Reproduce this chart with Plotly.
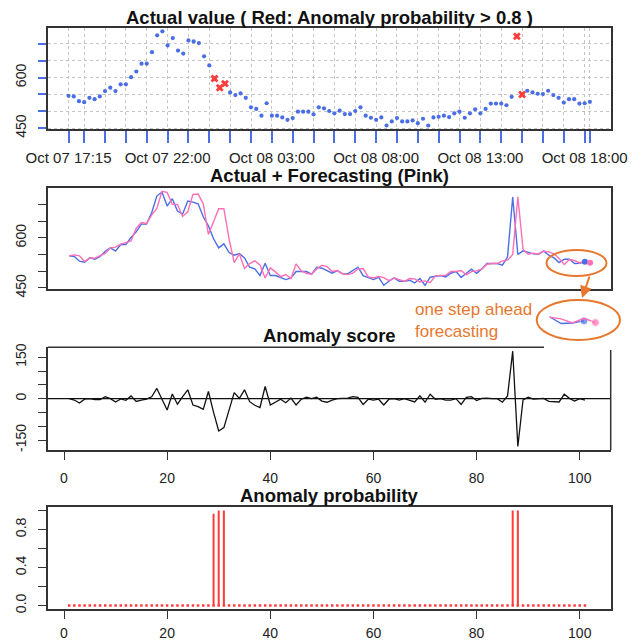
import pandas as pd
import plotly.graph_objects as go

# ---------------- data ----------------
actual = [546, 544, 530, 527, 540, 536, 544, 560, 570, 560,
          580, 580, 601, 618, 641, 641, 675, 725, 737, 695,
          717, 680, 671, 710, 707, 702, 663, 636, 597, 570,
          582, 556, 548, 553, 540, 512, 507, 487, 524, 487,
          487, 482, 475, 480, 499, 499, 499, 491, 512, 509,
          501, 494, 502, 492, 492, 501, 512, 487, 481, 475,
          482, 458, 470, 480, 470, 470, 473, 465, 478, 458,
          482, 484, 487, 483, 494, 499, 481, 494, 506, 494,
          507, 523, 523, 523, 518, 543, 722, 550, 561, 556,
          552, 551, 561, 548, 540, 526, 536, 536, 523, 524,
          528]

forecast = [546, 549, 546, 529, 540, 539, 547, 553, 570, 572,
            581, 586, 591, 628, 646, 643, 668, 688, 739, 736,
            700, 700, 664, 678, 730, 731, 702, 610, 647, 687,
            687, 597, 526, 552, 508, 523, 531, 519, 480, 510,
            498, 484, 490, 478, 522, 501, 494, 491, 507, 518,
            514, 499, 502, 492, 490, 494, 507, 508, 483, 480,
            484, 481, 472, 480, 475, 470, 478, 477, 468, 471,
            466, 486, 487, 488, 499, 499, 502, 489, 499, 501,
            506, 521, 523, 523, 531, 533, 550, 723, 566, 551,
            554, 551, 560, 558, 552, 538, 520, 535, 532, 524,
            533, 525]

score = [0, -5, -16, -2, 0, -3, -3, 7, 0, -12,
         -1, -6, 10, -10, -5, -2, 7, 37, -2, -41,
         17, -20, 7, 32, -23, -29, -39, 26, -50, -117,
         -105, -41, 22, 1, 32, -11, -24, -32, 44, -23,
         -11, -2, -15, 2, -23, -2, 5, 0, 5, -9,
         -13, -5, 0, 0, 2, 7, 5, -21, -2, -5,
         -2, -23, -2, 0, -5, 0, -5, -12, 10, -13,
         16, -2, 0, -5, -5, 0, -21, 5, 7, -7,
         1, 2, 0, 0, -13, 10, 172, -173, -5, 5,
         -2, 0, 1, -10, -12, -12, 16, 1, -9, 0,
         -5]

prob = [0, 0, 0, 0, 0, 0, 0, 0, 0, 0,
        0, 0, 0, 0, 0, 0, 0, 0, 0, 0,
        0, 0, 0, 0, 0, 0, 0, 0, 0.965, 1.0,
        1.0, 0, 0, 0, 0, 0, 0, 0, 0, 0,
        0, 0, 0, 0, 0, 0, 0, 0, 0, 0,
        0, 0, 0, 0, 0, 0, 0, 0, 0, 0,
        0, 0, 0, 0, 0, 0, 0, 0, 0, 0,
        0, 0, 0, 0, 0, 0, 0, 0, 0, 0,
        0, 0, 0, 0, 0, 0, 1.0, 1.0, 0, 0,
        0, 0, 0, 0, 0, 0, 0, 0, 0, 0,
        0]

threshold = 0.8
start_time = "2015-10-07 17:15"
time_labels = ["Oct 07 17:15", "Oct 07 22:00", "Oct 08 03:00",
               "Oct 08 08:00", "Oct 08 13:00", "Oct 08 18:00"]
score_ticks = [-150, -100, -50, 0, 50, 100, 150]
score_labels = ["-150", "", "", "0", "", "", "150"]
val_ticks = [450, 500, 550, 600, 650, 700]
val_labels = ["450", "", "", "600", "", ""]
prob_ticks = [0, 0.2, 0.4, 0.6, 0.8, 1.0]
prob_labels = ["0.0", "", "0.4", "", "0.8", ""]
idx_ticks = [0, 20, 40, 60, 80, 100]

# ---------------- derived ----------------
idx = list(range(1, len(actual) + 1))
idx_f = list(range(1, len(forecast) + 1))
times = pd.date_range(start_time, periods=len(actual), freq="15min")
hours = pd.date_range(times[0].ceil("h"), times[-1].floor("h"), freq="h")
tick_times = [times[0]] + list(hours) + [times[-1]]
tick_text = [t.strftime("%b %d %H:%M") if t.strftime("%b %d %H:%M") in time_labels else ""
             for t in tick_times]
span = times[-1] - times[0]
t_range = [times[0] - span * 0.04, times[-1] + span * 0.04]

red_i = [i for i, p in zip(range(len(prob)), prob) if p > threshold]

W, H = 641, 643
def px(x): return x / W
def py(y): return 1 - y / H

X0, X1 = 47.7, 610.7
BLUE = "#4a6ee6"
PINK = "#ff6fb5"
ORANGE = "#e8772e"
RED = "#ff3b3b"
FONT = "Arial, Liberation Sans, sans-serif"
TXT = "#222222"
BOX = "#333333"

fig = go.Figure()

# panel 1
fig.add_trace(go.Scatter(x=times, y=actual, mode="markers", xaxis="x", yaxis="y",
                         marker=dict(color=BLUE, size=4.2), showlegend=False))
fig.add_trace(go.Scatter(x=[times[i] for i in red_i], y=[actual[i] for i in red_i],
                         mode="markers", xaxis="x", yaxis="y",
                         marker=dict(color=RED, size=7, symbol="x"), showlegend=False))

# panel 2
fig.add_trace(go.Scatter(x=idx, y=actual, mode="lines", xaxis="x2", yaxis="y2",
                         line=dict(color=BLUE, width=1.4), showlegend=False))
fig.add_trace(go.Scatter(x=idx_f, y=forecast, mode="lines", xaxis="x2", yaxis="y2",
                         line=dict(color=PINK, width=1.4), showlegend=False))
fig.add_trace(go.Scatter(x=[idx[-1]], y=[actual[-1]], mode="markers", xaxis="x2", yaxis="y2",
                         marker=dict(color=BLUE, size=6), showlegend=False))
fig.add_trace(go.Scatter(x=[idx_f[-1]], y=[forecast[-1]], mode="markers", xaxis="x2", yaxis="y2",
                         marker=dict(color=PINK, size=6), showlegend=False))

# panel 3
fig.add_trace(go.Scatter(x=idx, y=score, mode="lines", xaxis="x3", yaxis="y3",
                         line=dict(color="#111111", width=1.3), showlegend=False))

# panel 4 (type "h")
hx, hy = [], []
for i, p in zip(idx, prob):
    hx += [i, i, None]
    hy += [0, p, None]
fig.add_trace(go.Scatter(x=hx, y=hy, mode="lines", xaxis="x4", yaxis="y4",
                         line=dict(color=RED, width=2), showlegend=False))
fig.add_trace(go.Scatter(x=idx, y=[0] * len(idx), mode="markers", xaxis="x4", yaxis="y4",
                         marker=dict(color=RED, size=2.5, symbol="square"), showlegend=False))

# inset (zoomed tail)
fig.add_trace(go.Scatter(x=idx[-4:], y=actual[-4:], mode="lines+markers", xaxis="x5", yaxis="y5",
                         line=dict(color=BLUE, width=1.4),
                         marker=dict(color=BLUE, size=[0, 0, 0, 8]), showlegend=False))
fig.add_trace(go.Scatter(x=idx_f[-5:], y=forecast[-5:], mode="lines+markers", xaxis="x5", yaxis="y5",
                         line=dict(color=PINK, width=1.4),
                         marker=dict(color=PINK, size=[0, 0, 0, 0, 8]), showlegend=False))

tickfont = dict(family=FONT, size=14, color=TXT)
idx_range = [-3.16, 106.0]
val_range = [446.8, 748.2]

layout = dict(
    width=W, height=H, autosize=False,
    margin=dict(l=0, r=0, t=0, b=0, autoexpand=False),
    paper_bgcolor="white", plot_bgcolor="white", showlegend=False,
    xaxis=dict(domain=[px(X0), px(X1)], anchor="y", type="date", range=t_range,
               tickmode="array", tickvals=tick_times, ticktext=tick_text, tickangle=0,
               ticks="outside", ticklen=12, tickwidth=2, tickcolor=BLUE,
               tickfont=dict(family=FONT, size=15, color=TXT), ticklabelstandoff=2,
               showgrid=True, gridcolor="#c4c4c4", griddash="dot", gridwidth=1,
               showline=True, mirror=True, linecolor=BOX, linewidth=1.5, zeroline=False),
    yaxis=dict(domain=[py(129.3), py(27.5)], anchor="x", range=val_range,
               tickmode="array", tickvals=val_ticks, ticktext=val_labels, tickangle=-90,
               ticks="outside", ticklen=8, tickwidth=2, tickcolor=BLUE, tickfont=tickfont,
               ticklabelstandoff=6,
               showgrid=True, gridcolor="#c4c4c4", griddash="dot", gridwidth=1,
               showline=True, mirror=True, linecolor=BOX, linewidth=1.5, zeroline=False),
    xaxis2=dict(domain=[px(X0), px(X1)], anchor="y2", range=idx_range,
                showticklabels=False, ticks="", showgrid=False, zeroline=False,
                showline=True, mirror=True, linecolor=BOX, linewidth=1.5),
    yaxis2=dict(domain=[py(289), py(188.3)], anchor="x2", range=val_range,
                tickmode="array", tickvals=val_ticks, ticktext=val_labels, tickangle=-90,
                ticks="outside", ticklen=8, tickwidth=1.3, tickcolor=BOX, tickfont=tickfont,
                ticklabelstandoff=6, showgrid=False, zeroline=False,
                showline=True, mirror=True, linecolor=BOX, linewidth=1.5),
    xaxis3=dict(domain=[px(X0), px(X1)], anchor="y3", range=idx_range,
                tickmode="array", tickvals=idx_ticks, tickangle=0, ticks="outside", ticklen=8,
                tickwidth=1.3, tickcolor=BOX, tickfont=tickfont, ticklabelstandoff=6,
                showgrid=False, zeroline=False, showline=True, mirror=False,
                linecolor=BOX, linewidth=1.5),
    yaxis3=dict(domain=[py(450), py(347.3)], anchor="x3", range=[-186, 186],
                tickmode="array", tickvals=score_ticks, ticktext=score_labels, tickangle=-90,
                ticks="outside", ticklen=8, tickwidth=1.3, tickcolor=BOX, tickfont=tickfont,
                ticklabelstandoff=6, showgrid=False, zeroline=False,
                showline=True, mirror=False, linecolor=BOX, linewidth=1.5),
    xaxis4=dict(domain=[px(X0), px(X1)], anchor="y4", range=idx_range,
                tickmode="array", tickvals=idx_ticks, tickangle=0, ticks="outside", ticklen=8,
                tickwidth=1.3, tickcolor=BOX, tickfont=tickfont, ticklabelstandoff=2,
                showgrid=False, zeroline=False, showline=True, mirror=True,
                linecolor=BOX, linewidth=1.5),
    yaxis4=dict(domain=[py(609.3), py(506.7)], anchor="x4", range=[-0.04, 1.04],
                tickmode="array", tickvals=prob_ticks, ticktext=prob_labels, tickangle=-90,
                ticks="outside", ticklen=8, tickwidth=1.3, tickcolor=BOX, tickfont=tickfont,
                ticklabelstandoff=6, showgrid=False, zeroline=False,
                showline=True, mirror=True, linecolor=BOX, linewidth=1.5),
    xaxis5=dict(domain=[px(545), px(600)], anchor="y5", range=[97.6, 102.4],
                visible=False, showgrid=False, zeroline=False),
    yaxis5=dict(domain=[py(333), py(312)], anchor="x5", range=[505, 545],
                visible=False, showgrid=False, zeroline=False),
)
for k, v in layout.items():
    if k.startswith(("xaxis", "yaxis")):
        v["automargin"] = False
fig.update_layout(**layout)

title_font = dict(family=FONT, size=18.5, color="#111111")
xc = px((X0 + X1) / 2)
titles = [("Actual value ( Red: Anomaly probability > 0.8 )", 17),
          ("Actual + Forecasting (Pink)", 175),
          ("Anomaly score", 335),
          ("Anomaly probability", 495)]
for t, y in titles:
    fig.add_annotation(text="<b>%s</b>" % t, x=xc, y=py(y), xref="paper", yref="paper",
                       xanchor="center", yanchor="middle", showarrow=False, font=title_font)

# zero line in panel 3
fig.add_shape(type="line", xref="x3 domain", yref="y3", x0=0, x1=1, y0=0, y1=0,
              line=dict(color="#111111", width=1.3))
# partial box edges of panel 3 (covered corner)
fig.add_shape(type="line", xref="paper", yref="paper", x0=px(X0), x1=px(544),
              y0=py(347.3), y1=py(347.3), line=dict(color=BOX, width=1.5))
fig.add_shape(type="line", xref="paper", yref="paper", x0=px(X1), x1=px(X1),
              y0=py(350), y1=py(450), line=dict(color=BOX, width=1.5))

# callout ellipses
fig.add_shape(type="circle", xref="paper", yref="paper", x0=px(546.5), x1=px(606.5),
              y0=py(276), y1=py(250), line=dict(color=ORANGE, width=2))
fig.add_shape(type="circle", xref="paper", yref="paper", x0=px(536.7), x1=px(620),
              y0=py(340), y1=py(300), line=dict(color=ORANGE, width=2))
fig.add_annotation(x=px(582), y=py(298), ax=8, ay=-23, xref="paper", yref="paper",
                   axref="pixel", ayref="pixel", text="", showarrow=True, arrowhead=2,
                   arrowsize=1.2, arrowwidth=2, arrowcolor=ORANGE)
fig.add_annotation(text="one step ahead<br>forecasting", x=px(413), y=py(320),
                   xref="paper", yref="paper", xanchor="left", yanchor="middle", align="left",
                   showarrow=False, font=dict(family=FONT, size=17, color=ORANGE))

fig.write_html("out.html", config={"responsive": False, "displayModeBar": False},
               post_script="document.body.style.margin='0px';document.body.style.overflow='hidden';")
